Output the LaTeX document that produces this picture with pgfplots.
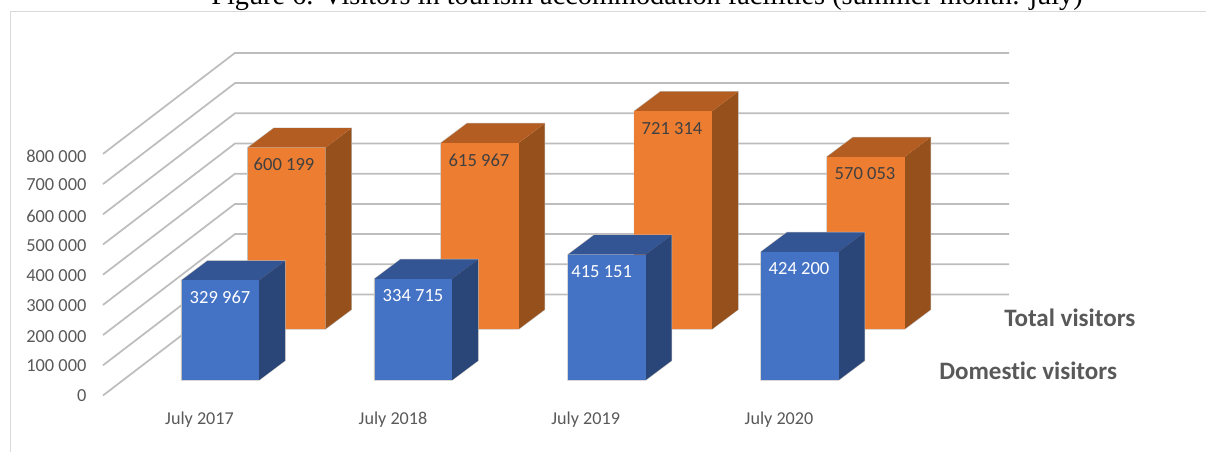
\documentclass[border=0pt]{standalone}
\usepackage{fontspec}
\setmainfont{Carlito}[Ligatures=CommonOff]
\newfontfamily\titlefont{Liberation Serif}
\usepackage{pgfplots}
\pgfplotsset{compat=1.18}

\definecolor{txt}{HTML}{595959}
\definecolor{lbl}{HTML}{404040}
\definecolor{gridc}{HTML}{BDBDBD}
\definecolor{framec}{HTML}{D9D9D9}
\definecolor{halo}{HTML}{C4C0BC}
\definecolor{orfront}{HTML}{ED7D31}
\definecolor{ortop}{HTML}{B35D22}
\definecolor{orside}{HTML}{96501C}
\definecolor{blfront}{HTML}{4472C4}
\definecolor{bltop}{HTML}{335593}
\definecolor{blside}{HTML}{2A4678}

% x axis is in image pixels, y axis in visitors (30.2 px per 100 000)
% depth of the fake 3D: 26 px across, 19.5 px up = 64570 visitors
% #1 left x, #2 value, #3 base of the series, #4 colour prefix, #5 label x, #6 label, #7 label colour
\newcommand{\threedbar}[7]{%
  \pgfmathsetmacro\xa{#1}%
  \pgfmathsetmacro\xb{#1+77.7}%
  \pgfmathsetmacro\xc{#1+26}%
  \pgfmathsetmacro\xd{#1+103.7}%
  \edef\ya{\the\numexpr#3\relax}%
  \edef\yb{\the\numexpr#3+#2\relax}%
  \edef\yc{\the\numexpr#3+64570\relax}%
  \edef\yd{\the\numexpr#3+#2+64570\relax}%
  \edef\ye{\the\numexpr#3+#2-56000\relax}%
  \edef\next{%
    \noexpand\addplot[color=halo,line width=0.8pt] coordinates {(\xa,\ya)(\xb,\ya)(\xd,\yc)(\xd,\yd)(\xc,\yd)(\xa,\yb)} --cycle;
    \noexpand\addplot[draw=none,fill=#4side] coordinates {(\xb,\ya)(\xd,\yc)(\xd,\yd)(\xb,\yb)} --cycle;
    \noexpand\addplot[draw=none,fill=#4top] coordinates {(\xa,\yb)(\xb,\yb)(\xd,\yd)(\xc,\yd)} --cycle;
    \noexpand\addplot[draw=none,fill=#4front] coordinates {(\xa,\ya)(\xb,\ya)(\xb,\yb)(\xa,\yb)} --cycle;
    \noexpand\node[text=#7,font=\noexpand\fontsize{13.9pt}{15pt}\noexpand\selectfont,inner sep=0pt] at (axis cs:#5,\ye) {#6};
  }\next
}
% one gridline per 100 000: left wall, then back wall
\newcommand{\gridline}[1]{%
  \edef\ya{\the\numexpr#1-51325\relax}%
  \edef\yb{\the\numexpr#1+283113\relax}%
  \edef\next{%
    \noexpand\addplot[color=gridc,line width=1.3pt] coordinates {(103,\ya)(235,\yb)(1009,\yb)};
  }\next
}

\begin{document}
\begin{tikzpicture}
\path[use as bounding box] (0,0) rectangle (904.5pt,339pt);
\clip (0,0) rectangle (904.5pt,339pt);
\begin{axis}[
    at={(0,0)}, anchor=south west,
    width=904.5pt, height=339pt, scale only axis,
    xmin=0, xmax=1206,
    ymin=-238412, ymax=1258278,
    clip=false,
    axis line style={draw=none},
    major tick length=0pt,
    tick style={draw=none},
    xtick={199.5,393,585.7,779},
    xticklabels={July 2017,July 2018,July 2019,July 2020},
    xticklabel style={anchor=center,yshift=24pt,inner sep=0pt,text=txt,font=\fontsize{13.6pt}{15pt}\selectfont},
    ytick={-51987,46358,142384,245033,344371,444702,543046,645695,741722},
    yticklabels={0,100 000,200 000,300 000,400 000,500 000,600 000,700 000,800 000},
    yticklabel style={anchor=east,xshift=65pt,inner sep=0pt,text=txt,font=\fontsize{13.8pt}{15pt}\selectfont},
]
% outer frame
\addplot[color=framec,line width=1.1pt] coordinates {(10.5,-238412)(10.5,1220199)(1206,1220199)};

\gridline{0}
\gridline{100000}
\gridline{200000}
\gridline{300000}
\gridline{400000}
\gridline{500000}
\gridline{600000}
\gridline{700000}
\gridline{800000}

% Total visitors (rear row), base 51 px above the front row
\threedbar{247.7}{600199}{168874}{or}{284}{600 199}{lbl}
\threedbar{441}{615967}{168874}{or}{479}{615 967}{lbl}
\threedbar{634.4}{721314}{168874}{or}{672}{721 314}{lbl}
\threedbar{827}{570053}{168874}{or}{865}{570 053}{lbl}

% Domestic visitors (front row)
\threedbar{181.5}{329967}{0}{bl}{220}{329 967}{white}
\threedbar{374.5}{334715}{0}{bl}{413}{334 715}{white}
\threedbar{568}{415151}{0}{bl}{601.7}{415 151}{white}
\threedbar{761}{424200}{0}{bl}{799}{424 200}{white}

% series names
\node[text=txt,font=\fontsize{18.8pt}{20pt}\selectfont\bfseries,inner sep=0pt,anchor=west] at (axis cs:1004,205298) {Total visitors};
\node[text=txt,font=\fontsize{18.8pt}{20pt}\selectfont\bfseries,inner sep=0pt,anchor=west] at (axis cs:939,30000) {Domestic visitors};

% figure caption, cut off by the top edge of the image
\node[font=\titlefont\fontsize{21.2pt}{24pt}\selectfont,anchor=base,inner sep=0pt] at (axis cs:647,1241722) {Figure 6. Visitors in tourism accommodation facilities (summer month: july)};
\end{axis}
\end{tikzpicture}
\end{document}
